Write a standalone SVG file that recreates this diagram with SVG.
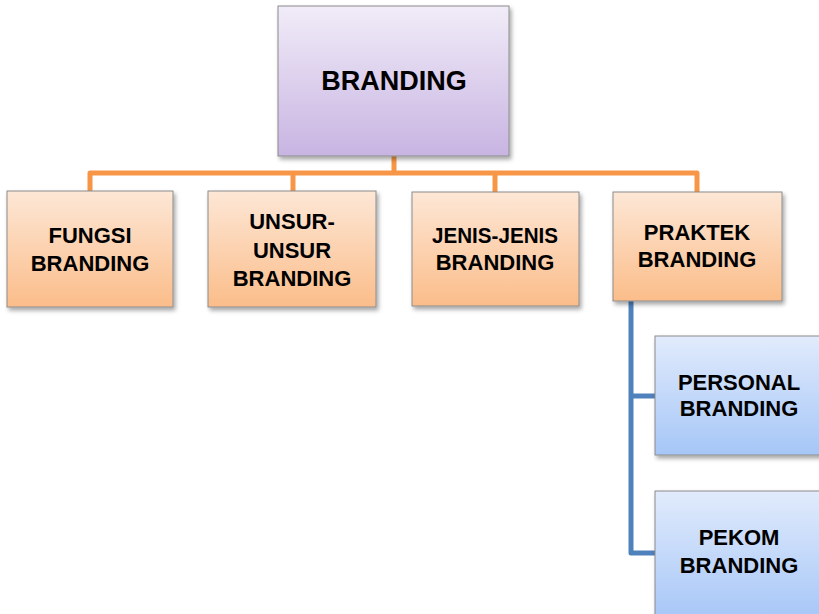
<svg xmlns="http://www.w3.org/2000/svg" width="819" height="614" viewBox="0 0 819 614">
  <defs>
    <linearGradient id="gPurple" x1="0" y1="0" x2="0" y2="1">
      <stop offset="0" stop-color="#F1ECF8"/>
      <stop offset="1" stop-color="#C8B4E2"/>
    </linearGradient>
    <linearGradient id="gOrange" x1="0" y1="0" x2="0" y2="1">
      <stop offset="0" stop-color="#FDE7D6"/>
      <stop offset="1" stop-color="#FBBD8A"/>
    </linearGradient>
    <linearGradient id="gBlue" x1="0" y1="0" x2="0" y2="1">
      <stop offset="0" stop-color="#E1EBFC"/>
      <stop offset="1" stop-color="#A6C6F7"/>
    </linearGradient>
    <filter id="shadow" x="-10%" y="-10%" width="130%" height="130%">
      <feDropShadow dx="2" dy="3" stdDeviation="2" flood-color="#000" flood-opacity="0.35"/>
    </filter>
  </defs>
  <style>
    .box { stroke: #8C8C8C; stroke-width: 1; filter: url(#shadow); }
    .purple { fill: url(#gPurple); }
    .orange { fill: url(#gOrange); }
    .blue { fill: url(#gBlue); }
    .lbl { font-family: "Liberation Sans", Arial, sans-serif; font-weight: bold; fill: #000; text-anchor: middle; }
    .s22 { font-size: 22px; }
    .s27 { font-size: 27px; }
    .link { fill: none; stroke-width: 5; stroke-linejoin: round; stroke-linecap: butt; }
    .orangeLink { stroke: #F79646; }
    .blueLink { stroke: #4F81BD; }
  </style>

  <!-- connectors -->
  <g id="connectors">
    <path class="link orangeLink" d="M394 156 V173"/>
    <path class="link orangeLink" d="M90 191 V173 H697 V192"/>
    <path class="link orangeLink" d="M293 173 V191"/>
    <path class="link orangeLink" d="M495 173 V192"/>
    <path class="link blueLink" d="M631 301 V553 H655"/>
    <path class="link blueLink" d="M631 396 H655"/>
  </g>

  <g id="branding">
    <rect class="box purple" x="278" y="6" width="231" height="150"/>
    <text class="lbl s27" x="394" y="90">BRANDING</text>
  </g>

  <g id="fungsi">
    <rect class="box orange" x="7" y="191" width="166" height="116"/>
    <text class="lbl s22" x="90" y="243">FUNGSI</text>
    <text class="lbl s22" x="90" y="271">BRANDING</text>
  </g>

  <g id="unsur">
    <rect class="box orange" x="208" y="191" width="168" height="116"/>
    <text class="lbl s22" x="292" y="229">UNSUR-</text>
    <text class="lbl s22" x="292" y="258">UNSUR</text>
    <text class="lbl s22" x="292" y="286">BRANDING</text>
  </g>

  <g id="jenis">
    <rect class="box orange" x="412" y="192" width="167" height="114"/>
    <text class="lbl s22" x="495" y="243" textLength="126" lengthAdjust="spacingAndGlyphs">JENIS-JENIS</text>
    <text class="lbl s22" x="495" y="270">BRANDING</text>
  </g>

  <g id="praktek">
    <rect class="box orange" x="613" y="192" width="169" height="109"/>
    <text class="lbl s22" x="697" y="240">PRAKTEK</text>
    <text class="lbl s22" x="697" y="267">BRANDING</text>
  </g>

  <g id="personal">
    <rect class="box blue" x="655" y="336" width="166" height="119"/>
    <text class="lbl s22" x="739" y="390">PERSONAL</text>
    <text class="lbl s22" x="739" y="416">BRANDING</text>
  </g>

  <g id="pekom">
    <rect class="box blue" x="655" y="491" width="166" height="130"/>
    <text class="lbl s22" x="739" y="545">PEKOM</text>
    <text class="lbl s22" x="739" y="573">BRANDING</text>
  </g>
</svg>
